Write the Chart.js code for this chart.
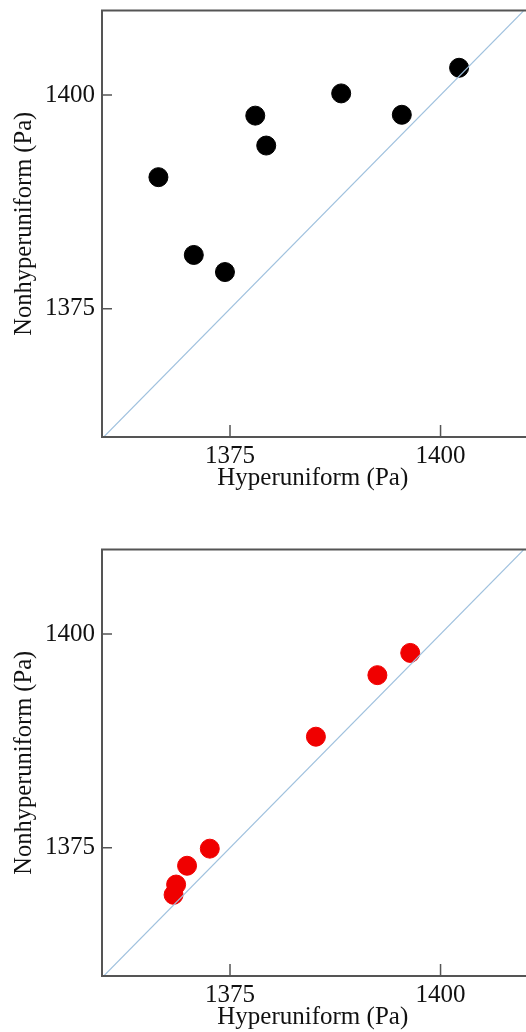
<!DOCTYPE html>
<html lang="en">
<head>
    <meta charset="UTF-8">
    <title>Hyperuniform vs Nonhyperuniform</title>
    <script src="https://cdn.jsdelivr.net/npm/chart.js@4.4.1/dist/chart.umd.min.js"></script>
    <style>
        body {
            margin: 0;
            width: 526px;
            height: 1032px;
            overflow: hidden;
            background: #ffffff;
            position: relative;
        }
        .panel {
            position: absolute;
            left: 0;
        }
        .panel canvas { display: block; }
        #panelTop { top: 0; }
        #panelBottom { top: 539px; }
    </style>
</head>
<body>
    <div id="panelTop" class="panel"><canvas id="chartTop" width="534" height="500"></canvas></div>
    <div id="panelBottom" class="panel"><canvas id="chartBottom" width="534" height="500"></canvas></div>

    <script>
        // values (Pa)
        const xTicks = [1375, 1400];
        const yTicks = [1375, 1400];
        const xRange = [1359.8, 1409.85];
        const yRange = [1360, 1409.9];
        const diagonal = [1350, 1420];

        const blackX = [1366.5, 1370.7, 1374.4, 1378.0, 1379.3, 1388.2, 1395.4, 1402.2];
        const blackY = [1390.4, 1381.3, 1379.3, 1397.6, 1394.1, 1400.2, 1397.7, 1403.2];

        const redX = [1396.4, 1392.5, 1385.2, 1372.6, 1369.9, 1368.6, 1368.3];
        const redY = [1397.8, 1395.2, 1388.0, 1374.9, 1372.9, 1370.7, 1369.5];

        const frameColor = '#555555';
        const serif = "'Liberation Serif', 'DejaVu Serif', serif";

        // frame on left/top/bottom plus inward tick marks
        const framePlugin = {
            id: 'frame',
            afterDatasetsDraw(chart) {
                const { ctx, chartArea: a, scales } = chart;
                ctx.save();
                ctx.strokeStyle = frameColor;
                ctx.lineWidth = 2;
                ctx.beginPath();
                ctx.moveTo(a.right + 5, a.top);
                ctx.lineTo(a.left, a.top);
                ctx.lineTo(a.left, a.bottom);
                ctx.lineTo(a.right + 5, a.bottom);
                ctx.stroke();

                ctx.lineWidth = 1.5;
                ctx.beginPath();
                scales.x.ticks.forEach(t => {
                    const px = scales.x.getPixelForValue(t.value);
                    ctx.moveTo(px, a.bottom);
                    ctx.lineTo(px, a.bottom - 12);
                });
                scales.y.ticks.forEach(t => {
                    const py = scales.y.getPixelForValue(t.value);
                    ctx.moveTo(a.left, py);
                    ctx.lineTo(a.left + 10, py);
                });
                ctx.stroke();
                ctx.restore();
            }
        };

        function makeChart(id, xs, ys, color) {
            const points = xs.map((x, i) => ({ x: x, y: ys[i] }));
            const line = diagonal.map(v => ({ x: v, y: v }));
            return new Chart(document.getElementById(id), {
                type: 'scatter',
                data: {
                    datasets: [
                        {
                            data: line,
                            showLine: true,
                            borderColor: '#9fc1de',
                            borderWidth: 1.2,
                            pointRadius: 0
                        },
                        {
                            data: points,
                            backgroundColor: color,
                            borderColor: color,
                            borderWidth: 1,
                            pointRadius: 9.5
                        }
                    ]
                },
                options: {
                    responsive: false,
                    animation: false,
                    events: [],
                    layout: { padding: { top: 9, right: 0, bottom: 0, left: 0 } },
                    plugins: {
                        legend: { display: false },
                        tooltip: { enabled: false }
                    },
                    scales: {
                        x: {
                            type: 'linear',
                            min: xRange[0],
                            max: xRange[1],
                            afterBuildTicks: s => { s.ticks = xTicks.map(v => ({ value: v })); },
                            afterFit: s => {
                                s.height = 63;
                                s.paddingLeft = s.paddingRight = s.paddingTop = s.paddingBottom = 0;
                            },
                            grid: { display: false, drawTicks: false },
                            border: { display: false },
                            ticks: {
                                padding: 4,
                                color: '#111',
                                font: { family: serif, size: 25 },
                                maxRotation: 0,
                                callback: v => String(v)
                            },
                            title: {
                                display: true,
                                text: 'Hyperuniform (Pa)',
                                color: '#111',
                                font: { family: serif, size: 25 },
                                padding: { top: 0, bottom: 7 }
                            }
                        },
                        y: {
                            type: 'linear',
                            min: yRange[0],
                            max: yRange[1],
                            afterBuildTicks: s => { s.ticks = yTicks.map(v => ({ value: v })); },
                            afterFit: s => {
                                s.width = 102;
                                s.paddingLeft = s.paddingRight = s.paddingTop = s.paddingBottom = 0;
                            },
                            grid: { display: false, drawTicks: false },
                            border: { display: false },
                            ticks: {
                                padding: 7,
                                color: '#111',
                                font: { family: serif, size: 25 },
                                callback: v => String(v)
                            },
                            title: {
                                display: true,
                                text: 'Nonhyperuniform (Pa)',
                                color: '#111',
                                font: { family: serif, size: 24.5 },
                                padding: { top: 10, bottom: 0 }
                            }
                        }
                    }
                },
                plugins: [framePlugin]
            });
        }

        makeChart('chartTop', blackX, blackY, '#000000');
        makeChart('chartBottom', redX, redY, '#f00000');
    </script>
</body>
</html>
